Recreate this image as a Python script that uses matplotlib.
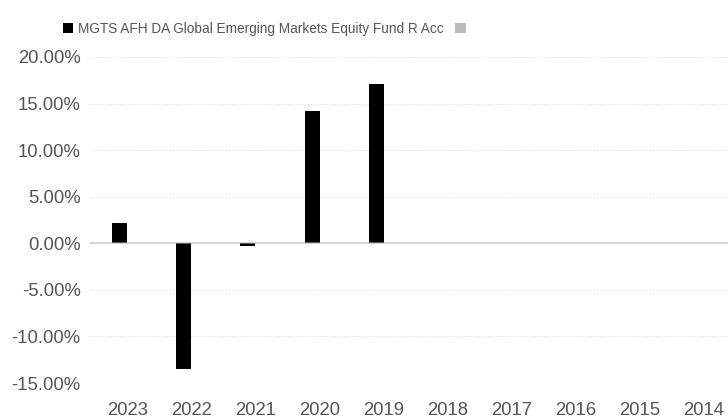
import matplotlib
matplotlib.use("Agg")
import matplotlib.pyplot as plt
from matplotlib.ticker import FuncFormatter
import numpy as np

years = ['2023', '2022', '2021', '2020', '2019', '2018', '2017', '2016', '2015', '2014']
fund = [2.2, -13.5, -0.3, 14.2, 17.1, np.nan, np.nan, np.nan, np.nan, np.nan]
# second series has no data in the source, only its legend key
other = [np.nan] * len(years)
fund_name = 'MGTS AFH DA Global Emerging Markets Equity Fund R Acc'

plt.rcParams['font.family'] = ['Liberation Sans', 'DejaVu Sans']

fig = plt.figure(figsize=(7.28, 4.18), dpi=100)
ax = fig.add_axes([0.124, 0.0837, 0.876, 0.78])

x = np.arange(len(years))
w = 0.234
ax.bar(x - w / 2, fund, width=w, color='black', zorder=2, label=fund_name)
ax.bar(x + w / 2, other, width=w, color='#bbbbbb', zorder=2, label=' ')
# translucent zero line: light on white, grey over the bars
ax.axhline(0, color='#b5b5b5', alpha=0.5, lw=1.5, zorder=3)

ax.set_ylim(-15, 20)
ax.set_yticks(np.arange(-15, 21, 5))
ax.yaxis.set_major_formatter(FuncFormatter(lambda v, p: '%.2f%%' % v))
ax.set_xlim(-0.577, 9.374)
ax.set_xticks(x)
ax.set_xticklabels(years)

ax.grid(axis='y', color='#dddddd', linestyle=':', lw=0.8, zorder=0)
for s in ax.spines.values():
    s.set_visible(False)
ax.tick_params(length=0, labelsize=13.3, labelcolor='#555555')
ax.tick_params(axis='x', pad=14)
ax.tick_params(axis='y', pad=7)

handles, labels = ax.get_legend_handles_labels()
fig.legend(handles, [fund_name, ''], loc='center',
           bbox_to_anchor=(0.366, 0.931), ncol=2, frameon=False,
           fontsize=9.8, labelcolor='#555555', handlelength=0.8, handleheight=0.8,
           handletextpad=0.35, columnspacing=0.8)

fig.savefig('out.png', dpi=100)
